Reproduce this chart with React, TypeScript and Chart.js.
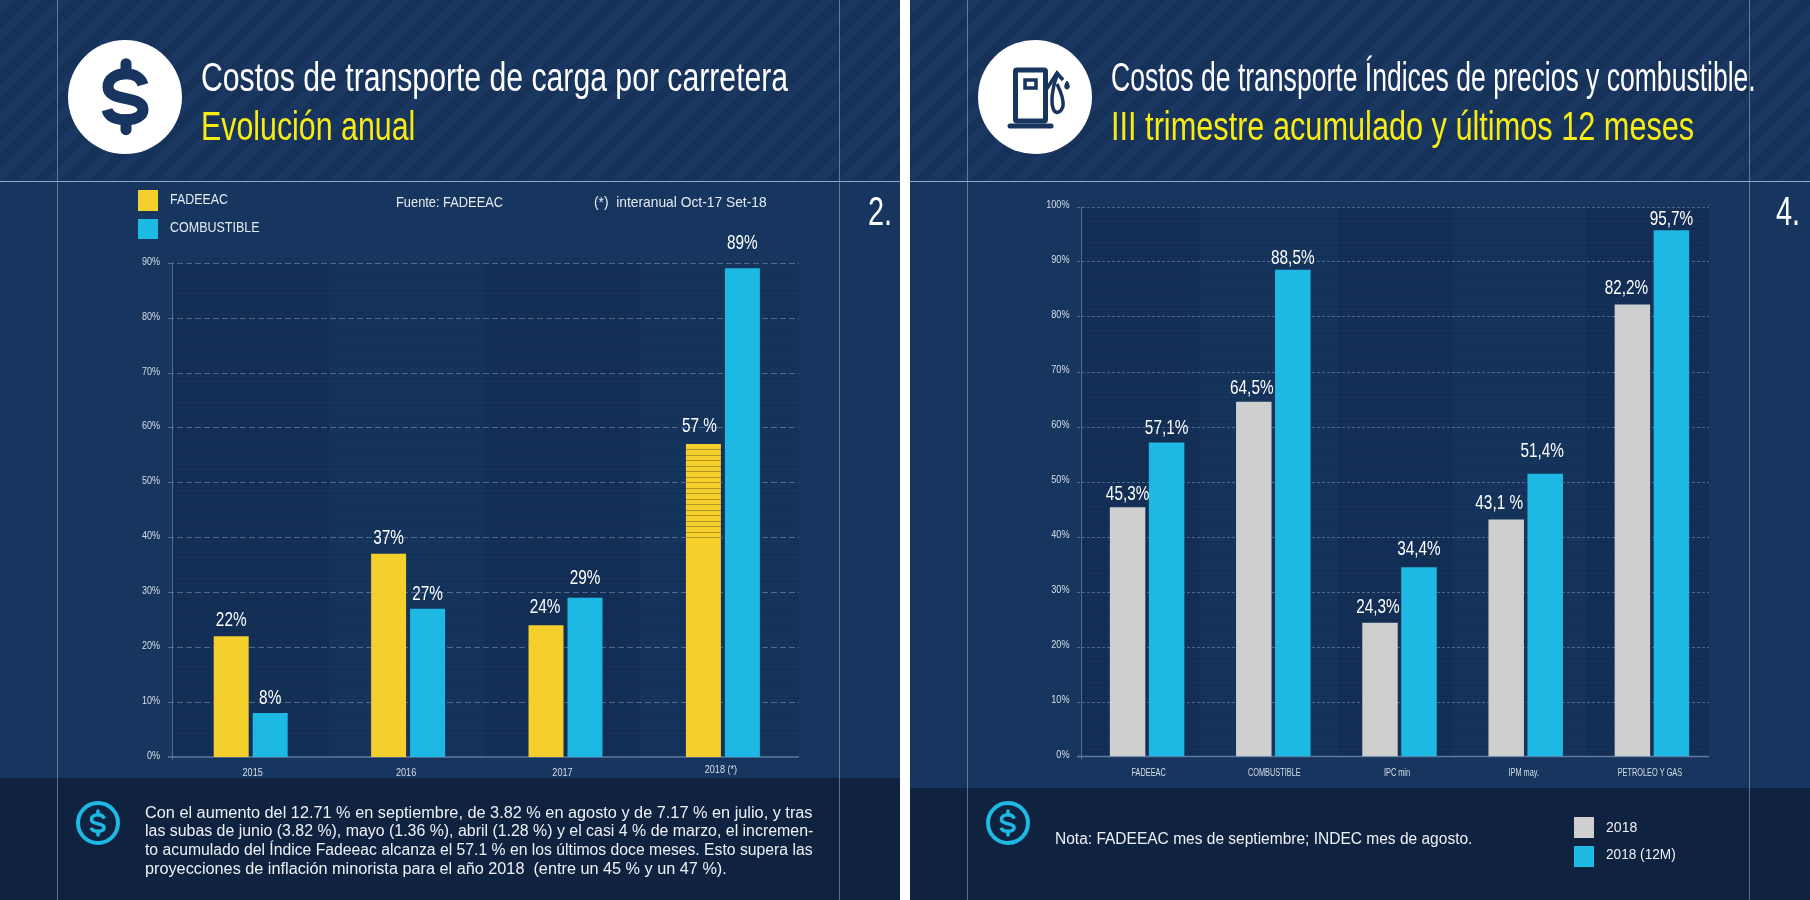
import React, { useEffect, useLayoutEffect, useRef } from "react";
import { Chart, registerables } from "chart.js";

Chart.register(...registerables);

const SANS = '"Liberation Sans", sans-serif';

// ---- data, left panel
const yearCategories = ["2015", "2016", "2017", "2018 (*)"];
const fadeeacValues = [22, 37, 24, 57];
const combustibleValues = [8, 27, 29, 89];
const fadeeacLabels = ["22%", "37%", "24%", "57 %"];
const combustibleLabels = ["8%", "27%", "29%", "89%"];

// ---- data, right panel
const indexCategories = ["FADEEAC", "COMBUSTIBLE", "IPC min", "IPM may.", "PETROLEO Y GAS"];
const quarterValues = [45.3, 64.5, 24.3, 43.1, 82.2];
const twelveMonthValues = [57.1, 88.5, 34.4, 51.4, 95.7];
const quarterLabels = ["45,3%", "64,5%", "24,3%", "43,1 %", "82,2%"];
const twelveMonthLabels = ["57,1%", "88,5%", "34,4%", "51,4%", "95,7%"];

// ---- colours
const YELLOW = "#f5d02c";
const CYAN = "#1db9e4";
const GREY = "#cfcfcf";
const PANEL = "#16365f";
const FOOTER = "#0f2340";
const NAVY = "#17355f";
const TITLE_YELLOW = "#f7ec13";

function squeezed(ctx: any, text: string, x: number, y: number, sx: number) {
  ctx.save();
  ctx.translate(x, y);
  ctx.scale(sx, 1);
  ctx.fillText(text, 0, 0);
  ctx.restore();
}

// draws the plot backdrop, gridlines, condensed tick text and value labels from the chart's scales
const decor = {
  id: "decor",
  beforeDatasetsDraw(chart: any, _a: any, o: any) {
    const { ctx } = chart;
    const y = chart.scales.y;
    const x = chart.scales.x;
    const top = y.getPixelForValue(y.max);
    const bottom = y.getPixelForValue(0);
    ctx.save();
    for (const [a, b, fill] of o.bands) {
      ctx.fillStyle = fill;
      ctx.fillRect(a, top, b - a, bottom - top);
    }
    ctx.strokeStyle = "rgba(12,30,58,0.2)";
    ctx.lineWidth = 1;
    for (let p = bottom - 5.5; p > top; p -= 5.5) {
      ctx.beginPath();
      ctx.moveTo(o.gridLeft, Math.round(p) + 0.5);
      ctx.lineTo(o.gridRight, Math.round(p) + 0.5);
      ctx.stroke();
    }
    ctx.strokeStyle = "rgba(140,162,195,0.5)";
    ctx.setLineDash(o.dash);
    for (const t of y.ticks) {
      if (t.value === 0) continue;
      const p = Math.round(y.getPixelForValue(t.value)) + 0.5;
      ctx.beginPath();
      ctx.moveTo(o.gridLeft - 4, p);
      ctx.lineTo(o.gridRight, p);
      ctx.stroke();
    }
    ctx.setLineDash([]);
    ctx.strokeStyle = "rgba(125,148,182,0.6)";
    ctx.lineWidth = 1;
    ctx.beginPath();
    ctx.moveTo(o.gridLeft + 0.5, top);
    ctx.lineTo(o.gridLeft + 0.5, bottom + 3);
    ctx.stroke();
    ctx.strokeStyle = "#5f789c";
    ctx.lineWidth = 1.5;
    ctx.beginPath();
    ctx.moveTo(o.gridLeft - 4, bottom);
    ctx.lineTo(o.gridRight, bottom);
    ctx.stroke();

    ctx.fillStyle = "#d8dee8";
    ctx.textBaseline = "middle";
    ctx.font = `${o.tickSize}px ${SANS}`;
    ctx.textAlign = "right";
    y.ticks.forEach((t: any) => {
      squeezed(ctx, `${t.value}%`, o.yLabelRight, y.getPixelForValue(t.value) - 1, o.yTickSqueeze);
    });
    ctx.textAlign = "center";
    x.ticks.forEach((t: any, i: number) => {
      squeezed(ctx, x.getLabelForValue(t.value), x.getPixelForTick(i) + o.xShift[i], o.xLabelY + o.xLift[i], o.xTickSqueeze);
    });
    ctx.restore();
  },
  afterDatasetsDraw(chart: any, _a: any, o: any) {
    const { ctx } = chart;
    const y = chart.scales.y;
    ctx.save();
    if (o.stripe) {
      const bar = chart.getDatasetMeta(o.stripe.dataset).data[o.stripe.index];
      const end = y.getPixelForValue(o.stripe.floor);
      ctx.strokeStyle = "rgba(120,100,35,0.55)";
      ctx.lineWidth = 1;
      for (let p = bar.y + 5.5; p < end; p += 5.5) {
        ctx.beginPath();
        ctx.moveTo(bar.x - bar.width / 2, Math.round(p) + 0.5);
        ctx.lineTo(bar.x + bar.width / 2, Math.round(p) + 0.5);
        ctx.stroke();
      }
    }
    ctx.fillStyle = "#ffffff";
    ctx.font = `21px ${SANS}`;
    ctx.textAlign = "center";
    ctx.textBaseline = "middle";
    chart.data.datasets.forEach((ds: any, di: number) => {
      chart.getDatasetMeta(di).data.forEach((bar: any, i: number) => {
        squeezed(ctx, ds.valueLabels[i], bar.x + o.shiftX[di][i], bar.y - o.lift[di][i], 0.73);
      });
    });
    ctx.restore();
  },
};

function makeChart(canvas: HTMLCanvasElement, labels: string[], sets: any[], spec: any) {
  return new Chart(canvas, {
    type: "bar",
    data: {
      labels,
      datasets: sets.map((s) => ({
        label: s.label,
        data: s.data,
        valueLabels: s.valueLabels,
        backgroundColor: s.color,
        borderWidth: 0,
        categoryPercentage: spec.categoryPercentage,
        barPercentage: spec.barPercentage,
      })),
    } as any,
    plugins: [decor],
    options: {
      responsive: false,
      animation: false,
      layout: { padding: { left: 0, right: spec.paddingRight, top: spec.top, bottom: 0 } },
      plugins: { legend: { display: false }, tooltip: { enabled: false }, decor: spec.decor } as any,
      scales: {
        x: {
          grid: { display: false },
          border: { display: false },
          afterFit: (s: any) => { s.height = spec.xHeight; },
          ticks: { display: false, autoSkip: false, maxRotation: 0 },
        },
        y: {
          min: 0,
          max: spec.max,
          grid: { display: false },
          border: { display: false },
          afterFit: (s: any) => { s.width = spec.yWidth; },
          ticks: { display: false, stepSize: 10 },
        },
      },
    },
  } as any);
}

function Label({ x, baseline, width, size, color = "#fff", children }: any) {
  const ref = useRef<HTMLSpanElement>(null);
  useLayoutEffect(() => {
    const el = ref.current;
    if (!el) return;
    el.style.transform = "none";
    el.style.transform = `scaleX(${width / el.offsetWidth})`;
  }, [width]);
  return (
    <span
      ref={ref}
      style={{
        position: "absolute",
        left: x,
        top: baseline - 0.8465 * size,
        fontFamily: SANS,
        fontSize: size,
        lineHeight: 1,
        color,
        whiteSpace: "pre",
        transformOrigin: "0 0",
      }}
    >
      {children}
    </span>
  );
}

function Box({ x, y, w, h, bg }: any) {
  return <div style={{ position: "absolute", left: x, top: y, width: w, height: h, background: bg }} />;
}

function Dollar({ color, sw }: any) {
  return (
    <g fill="none" stroke={color} strokeWidth={sw}>
      <path d="M0 -33 V-23" strokeLinecap="round" />
      <path d="M0 23 V33" strokeLinecap="round" />
      <path d="M17 -12 C15 -19 8 -23 0 -23 C-10 -23 -18 -18 -18 -10 C-18 -2 -10 0 0 2 C10 4 17 6 17 13 C17 19 10 23 0 23 C-10 23 -17 20 -19 13" />
    </g>
  );
}

function Panel({ x, w, footerTop }: any) {
  return (
    <>
      <Box x={x} y={0} w={w} h={900} bg={PANEL} />
      <Box
        x={x}
        y={0}
        w={w}
        h={181}
        bg="repeating-linear-gradient(135deg, #1a3762 0px, #1a3762 10px, #163259 10px, #163259 20px)"
      />
      <Box x={x} y={footerTop} w={w} h={900 - footerTop} bg={FOOTER} />
    </>
  );
}

function Lines({ x, w, a, b }: any) {
  const line = "rgba(170,188,215,0.5)";
  return (
    <>
      <Box x={x} y={181} w={w} h={1} bg="rgba(190,205,225,0.75)" />
      <Box x={a} y={0} w={1} h={900} bg={line} />
      <Box x={b} y={0} w={1} h={900} bg={line} />
    </>
  );
}

export default function App() {
  const leftRef = useRef<HTMLCanvasElement>(null);
  const rightRef = useRef<HTMLCanvasElement>(null);

  useEffect(() => {
    document.body.style.margin = "0";
    document.body.style.overflow = "hidden";
    const dark = "rgba(14,34,62,0.3)";
    const light = "rgba(14,34,62,0.07)";
    const left = makeChart(
      leftRef.current!,
      yearCategories,
      [
        { label: "FADEEAC", data: fadeeacValues, valueLabels: fadeeacLabels, color: YELLOW },
        { label: "COMBUSTIBLE", data: combustibleValues, valueLabels: combustibleLabels, color: CYAN },
      ],
      {
        categoryPercentage: 0.4955,
        barPercentage: 0.897,
        paddingRight: 98.4,
        top: 80.7,
        xHeight: 21,
        yWidth: 172,
        max: 90,
        decor: {
          gridLeft: 172,
          gridRight: 799,
          dash: [6, 3],
          bands: [
            [172, 329, dark],
            [329, 485, light],
            [485, 640, dark],
            [640, 799, light],
          ],
          stripe: { dataset: 0, index: 3, floor: 39.5 },
          lift: [[16, 16, 18, 18], [15, 15, 20, 24.5]],
          shiftX: [[0, 0, -1, -4], [0, 0, 0, 0]],
          tickSize: 11,
          yLabelRight: 160,
          yTickSqueeze: 0.82,
          xTickSqueeze: 0.83,
          xLabelY: 591,
          xShift: [2, -2, -3, -2],
          xLift: [0, 0, 0, -3],
        },
      },
    );
    const right = makeChart(
      rightRef.current!,
      indexCategories,
      [
        { label: "2018", data: quarterValues, valueLabels: quarterLabels, color: GREY },
        { label: "2018 (12M)", data: twelveMonthValues, valueLabels: twelveMonthLabels, color: CYAN },
      ],
      {
        categoryPercentage: 0.618,
        barPercentage: 0.91,
        paddingRight: 95,
        top: 24.5,
        xHeight: 31.5,
        yWidth: 174,
        max: 100,
        decor: {
          gridLeft: 171,
          gridRight: 799,
          dash: [3, 2],
          bands: [
            [171, 289, dark],
            [289, 428, light],
            [428, 543, dark],
            [543, 676, light],
            [676, 799, dark],
          ],
          lift: [[13, 14, 16, 16, 16], [14, 12, 18, 23, 11]],
          shiftX: [[0, -2, -2, -7, -6], [0, 0, 0, -3, 0]],
          tickSize: 10.5,
          yLabelRight: 159.5,
          yTickSqueeze: 0.87,
          xTickSqueeze: 0.7,
          xLabelY: 591,
          xShift: [1.5, 1, -2.5, -2, -2],
          xLift: [0, 0, 0, 0, 0],
        },
      },
    );
    return () => {
      left.destroy();
      right.destroy();
    };
  }, []);

  const soft = "#e6ebf2";
  const body = "#eef1f6";

  return (
    <div style={{ position: "fixed", left: 0, top: 0, width: 1810, height: 900, background: "#fff", overflow: "hidden" }}>
      <Panel x={0} w={900} footerTop={778} />
      <Panel x={910} w={900} footerTop={788} />

      <canvas ref={leftRef} width={900} height={596} style={{ position: "absolute", left: 0, top: 182 }} />
      <canvas ref={rightRef} width={900} height={606} style={{ position: "absolute", left: 910, top: 182 }} />

      <Lines x={0} w={900} a={57} b={839} />
      <Lines x={910} w={900} a={967} b={1749} />

      {/* header and footer icons */}
      <svg width={1810} height={900} style={{ position: "absolute", left: 0, top: 0 }}>
        <circle cx={125} cy={97} r={57} fill="#fff" />
        <g transform="translate(126 96.7)">
          <Dollar color={NAVY} sw={11} />
        </g>
        <circle cx={1035} cy={97} r={57} fill="#fff" />
        <g transform="translate(960 40)" fill="none" stroke={NAVY}>
          <rect x={55.5} y={30} width={30} height={51} rx={1.5} strokeWidth={5} />
          <rect x={65} y={40} width={11} height={8} strokeWidth={3.5} />
          <path d="M50 86 H91" strokeWidth={5} strokeLinecap="round" />
          <path d="M86 50 L97 33 L103 40" strokeWidth={3.5} />
          <path d="M97 35 C92 48 91 62 93 68 C95 75 101 73 103 66 C104 58 100 50 97 44" strokeWidth={3.5} />
          <path d="M107 41 C104 45 104 49 107 49 C110 49 110 45 107 41 Z" fill={NAVY} strokeWidth={1} />
        </g>
        <circle cx={98} cy={823} r={20} fill="none" stroke={CYAN} strokeWidth={4} />
        <g transform="translate(98 823) scale(0.36)">
          <Dollar color={CYAN} sw={10} />
        </g>
        <circle cx={1008} cy={823} r={20} fill="none" stroke={CYAN} strokeWidth={4} />
        <g transform="translate(1008 823) scale(0.36)">
          <Dollar color={CYAN} sw={10} />
        </g>
      </svg>

      {/* left header */}
      <Label x={201} baseline={90.5} width={587} size={40}>Costos de transporte de carga por carretera</Label>
      <Label x={201} baseline={140} width={214} size={40} color={TITLE_YELLOW}>Evolución anual</Label>
      <Label x={868} baseline={226} width={24} size={41}>2.</Label>

      {/* left legend and notes */}
      <Box x={138} y={190} w={20} h={21} bg={YELLOW} />
      <Box x={138} y={219} w={20} h={20} bg={CYAN} />
      <Label x={170} baseline={204} width={58} size={15} color={soft}>FADEEAC</Label>
      <Label x={170} baseline={232} width={90} size={15} color={soft}>COMBUSTIBLE</Label>
      <Label x={396} baseline={207} width={107} size={15} color={soft}>Fuente: FADEEAC</Label>
      <Label x={594} baseline={207} width={173} size={15} color={soft}>{"(*)  interanual Oct-17 Set-18"}</Label>

      {/* left footer */}
      <Label x={145} baseline={818.3} width={668} size={16} color={body}>Con el aumento del 12.71 % en septiembre, de 3.82 % en agosto y de 7.17 % en julio, y tras</Label>
      <Label x={145} baseline={837} width={668} size={16} color={body}>las subas de junio (3.82 %), mayo (1.36 %), abril (1.28 %) y el casi 4 % de marzo, el incremen-</Label>
      <Label x={145} baseline={856} width={668} size={16} color={body}>to acumulado del Índice Fadeeac alcanza el 57.1 % en los últimos doce meses. Esto supera las</Label>
      <Label x={145} baseline={875} width={582} size={16} color={body}>{"proyecciones de inflación minorista para el año 2018  (entre un 45 % y un 47 %)."}</Label>

      {/* right header */}
      <Label x={1111} baseline={90.5} width={645} size={40}>Costos de transporte Índices de precios y combustible.</Label>
      <Label x={1111} baseline={140} width={583} size={40} color={TITLE_YELLOW}>III trimestre acumulado y últimos 12 meses</Label>
      <Label x={1776} baseline={226} width={24} size={41}>4.</Label>

      {/* right footer */}
      <Label x={1055} baseline={845} width={417} size={16} color={body}>Nota: FADEEAC mes de septiembre; INDEC mes de agosto.</Label>
      <Box x={1574} y={817} w={20} h={21} bg={GREY} />
      <Box x={1574} y={846} w={20} h={21} bg={CYAN} />
      <Label x={1606} baseline={832} width={31} size={15} color={body}>2018</Label>
      <Label x={1606} baseline={859} width={70} size={15} color={body}>2018 (12M)</Label>
    </div>
  );
}
